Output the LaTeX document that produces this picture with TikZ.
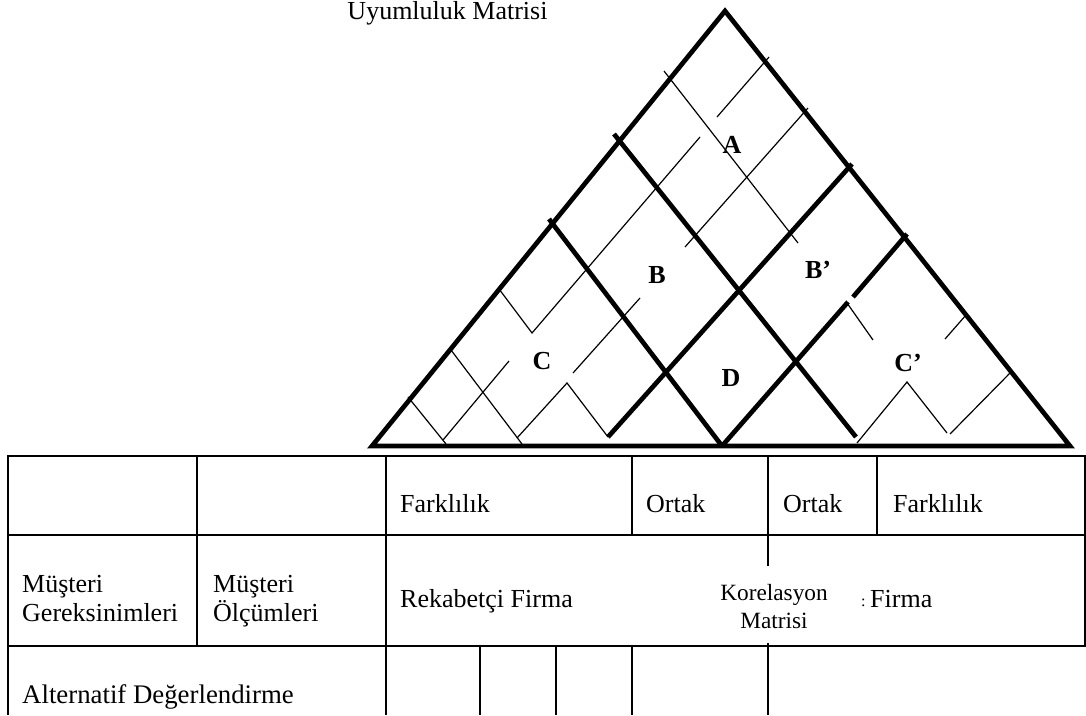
\documentclass[tikz,border=0pt]{standalone}
\usepackage{fontspec}
\setmainfont{Liberation Serif}
\begin{document}
\begin{tikzpicture}[x=1pt,y=-1pt,
  heavy/.style={line width=4.7pt, line join=miter},
  fine/.style={line width=1.2pt},
  grid/.style={line width=2.3pt},
  txt/.style={font=\fontsize{26}{29}\selectfont, inner sep=0pt, anchor=base west},
  smalltxt/.style={font=\fontsize{23.3}{28}\selectfont, inner sep=0pt, anchor=base},
  lettr/.style={font=\bfseries\fontsize{26}{28}\selectfont, inner sep=0pt}]
\useasboundingbox (0,0) rectangle (1086,715);

% title
\node[txt, anchor=base] (title) at (447.5,19) {Uyumluluk Matrisi};

% outer triangle
\draw[heavy] (725,11) -- (372,446) -- (1070,446) -- cycle;

% inner heavy lines
\draw[heavy] (614,134) -- (856,437);
\draw[heavy] (549,219) -- (722,446);
\draw[heavy] (852,164) -- (608,437);
\draw[heavy] (907,234) -- (853,297);
\draw[heavy] (848,302) -- (722,446);

% fine lines
\draw[fine] (664,71) -- (798,243);
\draw[fine] (769,57) -- (717,117);
\draw[fine] (700,137) -- (532,333) -- (499,289);
\draw[fine] (808,108) -- (685,247);
\draw[fine] (640,298) -- (573,373);
\draw[fine] (408,397) -- (446,444);
\draw[fine] (451,350) -- (522,444);
\draw[fine] (509,361) -- (443,440);
\draw[fine] (517,438) -- (567,383) -- (608,437);
\draw[fine] (847,303) -- (873,340);
\draw[fine] (966,315) -- (945,339);
\draw[fine] (1012,371) -- (950,434);
\draw[fine] (857,443) -- (907,382) -- (947,433);

% region labels
\node[lettr] (A)  at (732,145) {A};
\node[lettr] (B)  at (657,275) {B};
\node[lettr] (Bp) at (818,270) {B’};
\node[lettr] (C)  at (542,361) {C};
\node[lettr] (Cp) at (908,363) {C’};
\node[lettr] (D)  at (731,378) {D};

% table
\draw[grid, line join=miter] (8,715) -- (8,456) -- (1085,456) -- (1085,646) -- (8,646);
\draw[grid] (8,535) -- (1085,535);
\draw[grid] (197,456) -- (197,646);
\draw[grid] (386,456) -- (386,715);
\draw[grid] (632,456) -- (632,535);
\draw[grid] (632,646) -- (632,715);
\draw[grid] (768,456) -- (768,566);
\draw[grid] (768,643) -- (768,715);
\draw[grid] (877,456) -- (877,535);
\draw[grid] (480,646) -- (480,715);
\draw[grid] (556,646) -- (556,715);

% table texts
\node[txt] (f1) at (400,512) {Farklılık};
\node[txt] (o1) at (646,512) {Ortak};
\node[txt] (o2) at (783,512) {Ortak};
\node[txt] (f2) at (893,512) {Farklılık};
\node[txt] (mg1) at (22,592) {Müşteri};
\node[txt] (mg2) at (22,621) {Gereksinimleri};
\node[txt] (mo1) at (213,592) {Müşteri};
\node[txt] (mo2) at (213,621) {Ölçümleri};
\node[txt] (rf) at (400,607) {Rekabetçi Firma};
\node[smalltxt] (k1) at (774,600) {Korelasyon};
\node[smalltxt] (k2) at (774,628) {Matrisi};
\node[txt, font=\fontsize{16}{18}\selectfont] (colon) at (861,606) {:};
\node[txt] (ff) at (870,607) {Firma};
\node[txt, font=\fontsize{26.8}{29}\selectfont] (alt) at (22,703) {Alternatif Değerlendirme};
\end{tikzpicture}
\end{document}
